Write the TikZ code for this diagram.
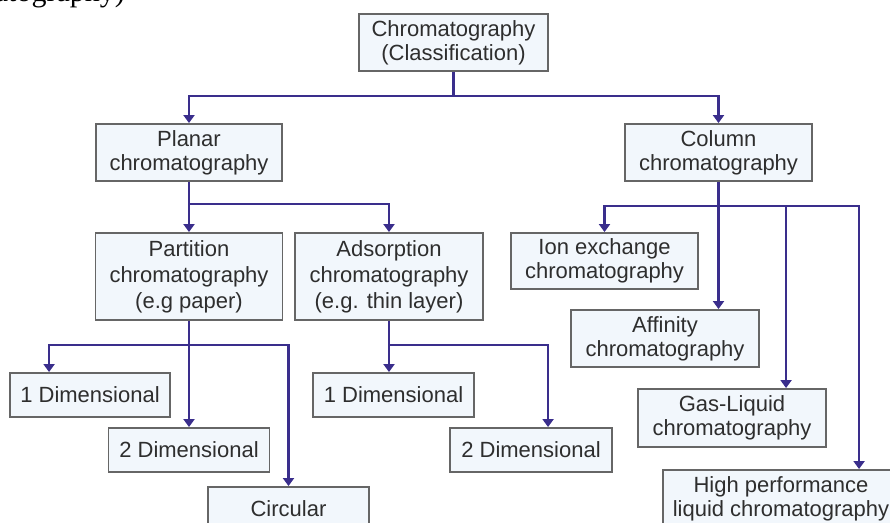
\documentclass[tikz,border=0pt]{standalone}
\usepackage{fontspec}
\setmainfont{Liberation Sans}
\newfontfamily\serifttl{Liberation Serif}
\usetikzlibrary{arrows.meta}
\definecolor{lineblue}{HTML}{3A2E8C}
\definecolor{boxfill}{HTML}{F2F7FC}
\definecolor{boxdraw}{HTML}{666666}
\definecolor{txt}{HTML}{2E2E2E}
\begin{document}
\begin{tikzpicture}[x=1pt,y=-1pt,
  box/.style={draw=boxdraw, fill=boxfill, line width=1.9pt, align=center, inner sep=0pt,
    font=\fontsize{22}{24}\selectfont, text=txt},
  conn/.style={draw=lineblue, line width=2.7pt},
  arr/.style={conn, -{Triangle[width=11pt,length=8pt]}}]
\useasboundingbox (0,0) rectangle (890,522);
\clip (0,0) rectangle (890,522);

\node[anchor=base east, inner sep=0pt, text=black, font=\serifttl\fontsize{30}{30}\selectfont] (ttl) at (125,1.5) {Chromatography)};

\node[box, minimum width=189pt, minimum height=57pt] (top) at (453.5,42.5) {Chromatography\\(Classification)};
\node[box, minimum width=186pt, minimum height=57pt] (planar) at (189,152.5) {Planar\\chromatography};
\node[box, minimum width=187pt, minimum height=57pt] (column) at (718.5,152.5) {Column\\chromatography};
\node[box, minimum width=187pt, minimum height=87pt, font=\fontsize{22}{26}\selectfont] (partition) at (189,276.5) {Partition\\chromatography\\(e.g paper)};
\node[box, minimum width=188pt, minimum height=87pt, font=\fontsize{22}{26}\selectfont] (adsorption) at (389,276.5) {Adsorption\\chromatography\\(e.g. thin layer)};
\node[box, minimum width=160pt, minimum height=44pt] (d1a) at (90,395) {1 Dimensional};
\node[box, minimum width=161pt, minimum height=44pt] (d2a) at (189,450) {2 Dimensional};
\node[box, minimum width=161pt, minimum height=44pt] (circ) at (288.5,509) {Circular};
\node[box, minimum width=161pt, minimum height=44pt] (d1b) at (393.5,395) {1 Dimensional};
\node[box, minimum width=162pt, minimum height=44pt] (d2b) at (531,450) {2 Dimensional};
\node[box, minimum width=187pt, minimum height=56pt] (ion) at (604.5,261) {Ion exchange\\chromatography};
\node[box, minimum width=188pt, minimum height=57pt] (affinity) at (665,338.5) {Affinity\\chromatography};
\node[box, minimum width=188pt, minimum height=58pt] (gas) at (732,418) {Gas-Liquid\\chromatography};
\node[box, minimum width=236pt, minimum height=58pt] (hplc) at (781,499) {High performance\\liquid chromatography};

% connectors
\draw[conn] (top.south) -- ++(0,24) coordinate (j0);
\draw[arr] (j0) -| (planar.north);
\draw[arr] (j0) -| (column.north);

\draw[conn] (planar.south) -- ++(0,22) coordinate (j1);
\draw[arr] (j1) -- (partition.north);
\draw[arr] (j1) -| (adsorption.north);

\draw[conn] (partition.south) -- ++(0,24) coordinate (j2);
\draw[arr] (j2) -| ([xshift=40pt]d1a.north west);
\draw[arr] (j2) -- (d2a.north);
\draw[arr] (j2) -| (circ.north);

\draw[conn] (adsorption.south) -- ++(0,24) coordinate (j3);
\draw[arr] (j3) -- (d1b.north -| j3);
\draw[arr] (j3) -| ([xshift=99pt]d2b.north west);

\draw[conn] (column.south) -- ++(0,24) coordinate (j4);
\draw[arr] (j4) -| (ion.north);
\draw[arr] (j4) -- (affinity.north -| j4);
\draw[arr] (j4) -| ([xshift=149pt]gas.north west);
\draw[arr] (j4) -| ([xshift=197pt]hplc.north west);
\end{tikzpicture}
\end{document}
